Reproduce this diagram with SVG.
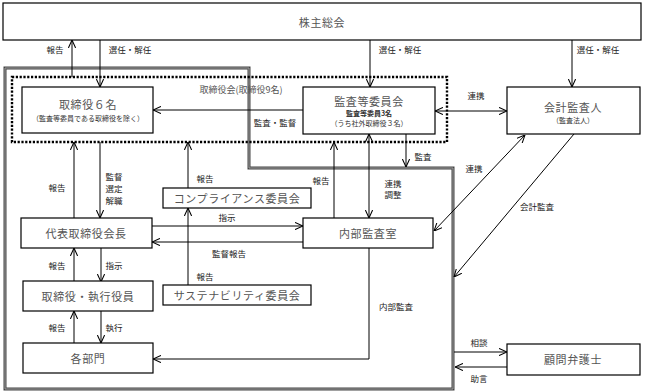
<svg xmlns="http://www.w3.org/2000/svg" width="645" height="392" viewBox="0 0 645 392">
<style>
.box{fill:#fff;stroke:#000;stroke-width:1.2}
.t{font-family:"Noto Sans CJK JP","Noto Sans",sans-serif;font-size:11px;fill:#555;text-anchor:middle;dominant-baseline:central;letter-spacing:0.6px}
.s{font-family:"Noto Sans CJK JP","Noto Sans",sans-serif;font-size:7px;fill:#333;text-anchor:middle;dominant-baseline:central}
.l{font-family:"Noto Sans CJK JP","Noto Sans",sans-serif;font-size:8.5px;fill:#222;text-anchor:middle;dominant-baseline:central}
.c{fill:none;stroke:#000;stroke-width:1}
</style>
<defs>
<marker id="ah" viewBox="0 0 10 10" refX="10" refY="5" markerWidth="8" markerHeight="8" markerUnits="userSpaceOnUse" orient="auto-start-reverse">
<path d="M0,0.5 L10,5 L0,9.5" fill="none" stroke="#000" stroke-width="1.3"/>
</marker>
</defs>
<rect width="645" height="392" fill="#fff"/>

<g id="frame">
<path d="M5,68 H249 V168 H453 V389 H5 Z" fill="none" stroke="#444" stroke-width="3"/>
<path d="M5,68 H249 V168 H453 V389 H5 Z" fill="none" stroke="#a0a0a0" stroke-width="1"/>
</g>

<g id="board">
<rect x="12" y="77" width="435" height="65" fill="none" stroke="#000" stroke-width="2.4" stroke-dasharray="2.2 1.6"/>
<text class="l" x="241" y="89" style="font-size:9px;fill:#555">取締役会(取締役9名)</text>
</g>

<g id="connectors">
<line class="c" x1="72" y1="77" x2="72" y2="40" marker-end="url(#ah)"/>
<line class="c" x1="100" y1="40" x2="100" y2="87" marker-end="url(#ah)"/>
<line class="c" x1="370" y1="40" x2="370" y2="87" marker-end="url(#ah)"/>
<line class="c" x1="572" y1="40" x2="572" y2="87" marker-end="url(#ah)"/>
<line class="c" x1="303" y1="110" x2="153" y2="110" marker-end="url(#ah)"/>
<line class="c" x1="435" y1="111" x2="507" y2="111" marker-start="url(#ah)" marker-end="url(#ah)"/>
<line class="c" x1="74" y1="218" x2="74" y2="142" marker-end="url(#ah)"/>
<line class="c" x1="100" y1="142" x2="100" y2="218" marker-end="url(#ah)"/>
<line class="c" x1="188" y1="188" x2="188" y2="142" marker-end="url(#ah)"/>
<line class="c" x1="188" y1="285" x2="188" y2="208" marker-end="url(#ah)"/>
<line class="c" x1="334" y1="218" x2="334" y2="142" marker-end="url(#ah)"/>
<line class="c" x1="369" y1="134" x2="369" y2="218" marker-start="url(#ah)" marker-end="url(#ah)"/>
<line class="c" x1="406" y1="134" x2="406" y2="167" marker-end="url(#ah)"/>
<line class="c" x1="152" y1="226" x2="303" y2="226" marker-end="url(#ah)"/>
<line class="c" x1="303" y1="242" x2="152" y2="242" marker-end="url(#ah)"/>
<line class="c" x1="434" y1="231" x2="525" y2="135" marker-start="url(#ah)" marker-end="url(#ah)"/>
<line class="c" x1="574" y1="134" x2="454" y2="277" marker-end="url(#ah)"/>
<line class="c" x1="74" y1="282" x2="74" y2="248" marker-end="url(#ah)"/>
<line class="c" x1="101" y1="248" x2="101" y2="282" marker-end="url(#ah)"/>
<line class="c" x1="74" y1="343" x2="74" y2="311" marker-end="url(#ah)"/>
<line class="c" x1="101" y1="311" x2="101" y2="343" marker-end="url(#ah)"/>
<polyline class="c" points="369,248 369,359 153,359" marker-end="url(#ah)"/>
<line class="c" x1="454" y1="352" x2="507" y2="352" marker-end="url(#ah)"/>
<line class="c" x1="507" y1="367" x2="455" y2="367" marker-end="url(#ah)"/>

<text class="l" x="55" y="49">報告</text>
<text class="l" x="130" y="49">選任・解任</text>
<text class="l" x="400" y="49">選任・解任</text>
<text class="l" x="598" y="49">選任・解任</text>
<text class="l" x="275" y="122">監査・監督</text>
<text class="l" x="476" y="95">連携</text>
<text class="l" x="57" y="187">報告</text>
<text class="l" x="114" y="176">監督</text>
<text class="l" x="114" y="188">選定</text>
<text class="l" x="114" y="200">解職</text>
<text class="l" x="205" y="178">報告</text>
<text class="l" x="321" y="180">報告</text>
<text class="l" x="393" y="183">連携</text>
<text class="l" x="393" y="194">調整</text>
<text class="l" x="423" y="156">監査</text>
<text class="l" x="474" y="168">連携</text>
<text class="l" x="537" y="206">会計監査</text>
<text class="l" x="227" y="217">指示</text>
<text class="l" x="229" y="253">監督報告</text>
<text class="l" x="205" y="276">報告</text>
<text class="l" x="57" y="265">報告</text>
<text class="l" x="114" y="265">指示</text>
<text class="l" x="57" y="327">報告</text>
<text class="l" x="114" y="327">執行</text>
<text class="l" x="396" y="306">内部監査</text>
<text class="l" x="479" y="342">相談</text>
<text class="l" x="479" y="378">助言</text>
</g>

<g id="shareholders">
<rect class="box" x="3" y="3" width="638" height="37"/>
<text class="t" x="322" y="22">株主総会</text>
</g>

<g id="directors">
<rect class="box" x="22" y="87" width="131" height="46"/>
<text class="t" x="88" y="104">取締役６名</text>
<text class="s" x="88" y="118">（監査等委員である取締役を除く）</text>
</g>

<g id="audit-committee">
<rect class="box" x="303" y="87" width="132" height="47"/>
<text class="t" x="369" y="101">監査等委員会</text>
<text class="s" x="369" y="113" style="font-weight:bold">監査等委員3名</text>
<text class="s" x="369" y="123">（うち社外取締役３名）</text>
</g>

<g id="accounting-auditor">
<rect class="box" x="507" y="87" width="133" height="47"/>
<text class="t" x="573" y="107">会計監査人</text>
<text class="s" x="573" y="120">（監査法人）</text>
</g>

<g id="chairman">
<rect class="box" x="21" y="218" width="131" height="30"/>
<text class="t" x="86" y="233">代表取締役会長</text>
</g>

<g id="compliance">
<rect class="box" x="163" y="188" width="148" height="20"/>
<text class="t" x="237" y="198">コンプライアンス委員会</text>
</g>

<g id="sustainability">
<rect class="box" x="163" y="285" width="148" height="20"/>
<text class="t" x="237" y="295">サステナビリティ委員会</text>
</g>

<g id="internal-audit">
<rect class="box" x="303" y="218" width="130" height="30"/>
<text class="t" x="368" y="233">内部監査室</text>
</g>

<g id="officers">
<rect class="box" x="23" y="281" width="130" height="30"/>
<text class="t" x="88" y="296">取締役・執行役員</text>
</g>

<g id="departments">
<rect class="box" x="23" y="343" width="130" height="30"/>
<text class="t" x="88" y="358">各部門</text>
</g>

<g id="lawyer">
<rect class="box" x="507" y="344" width="133" height="31"/>
<text class="t" x="573" y="359">顧問弁護士</text>
</g>
</svg>
